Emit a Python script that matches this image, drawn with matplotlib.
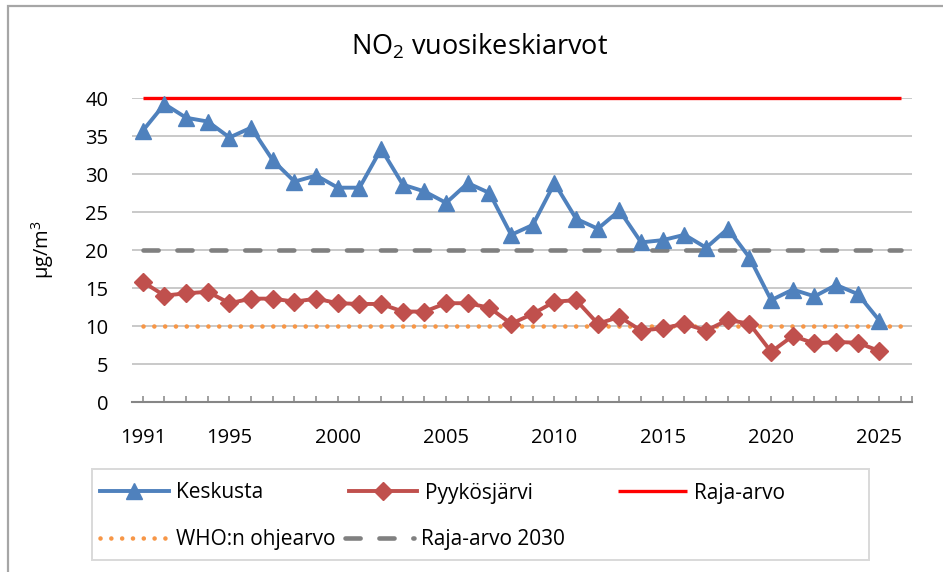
import matplotlib
matplotlib.use('Agg')
import matplotlib.pyplot as plt
import numpy as np
from matplotlib.patches import Rectangle

plt.rcParams['font.family'] = ['Open Sans', 'DejaVu Sans']
plt.rcParams['mathtext.fontset'] = 'custom'
plt.rcParams['mathtext.rm'] = 'Open Sans'

# data
years = list(range(1991, 2026))
keskusta = [35.7, 39.2, 37.4, 36.9, 34.8, 36.1, 31.8, 29.0, 29.8, 28.2,
            28.2, 33.3, 28.6, 27.7, 26.2, 28.8, 27.5, 22.0, 23.3, 28.8,
            24.1, 22.8, 25.2, 21.0, 21.3, 22.0, 20.3, 22.8, 19.0, 13.4,
            14.8, 13.9, 15.4, 14.2, 10.7]
pyykosjarvi = [15.8, 14.0, 14.3, 14.5, 13.0, 13.6, 13.6, 13.2, 13.6, 13.0,
               12.9, 12.9, 11.9, 11.9, 13.0, 13.0, 12.4, 10.3, 11.6, 13.2,
               13.4, 10.3, 11.2, 9.4, 9.7, 10.3, 9.4, 10.8, 10.3, 6.6,
               8.7, 7.7, 7.9, 7.8, 6.7]
ref_years = list(range(1991, 2027))
raja_arvo = [40] * len(ref_years)
who_ohje = [10] * len(ref_years)
raja_2030 = [20] * len(ref_years)
label_years = [1991, 1995, 2000, 2005, 2010, 2015, 2020, 2025]

fig = plt.figure(figsize=(9.43, 5.72), dpi=100)
ax = fig.add_axes([132/943, 1 - 402/572, 780/943, 304/572])

ax.set_xlim(1990.5, 2026.5)
ax.set_ylim(0, 40)
ax.set_yticks(range(0, 45, 5))
ax.grid(axis='y', color='#C0C0C0', lw=1.2, zorder=0)
ax.set_axisbelow(True)

ln_who, = ax.plot(ref_years, who_ohje, color='#F79646', lw=3.3,
                  dashes=(0.01, 2.35), dash_capstyle='round', zorder=2)
ln_2030, = ax.plot(ref_years, raja_2030, color='#808080', lw=3.3,
                   dashes=(3.3, 4.1), dash_capstyle='round', zorder=2)
ln_raja, = ax.plot(ref_years, raja_arvo, color='#FF0000', lw=2.4, zorder=3,
                   clip_on=False, solid_capstyle='butt')
ln_pyy, = ax.plot(years, pyykosjarvi, color='#C0504D', lw=2.8, marker='D',
                  ms=9, zorder=4, clip_on=False)
ln_kes, = ax.plot(years, keskusta, color='#4F81BD', lw=2.8, marker='^',
                  ms=11, zorder=5, clip_on=False)

for s in ['left', 'right', 'top']:
    ax.spines[s].set_visible(False)
ax.spines['bottom'].set_color('#868686')
ax.spines['bottom'].set_linewidth(1.5)

ax.set_xticks(label_years)
ax.set_xticks(list(range(1991, 2027)) + [2026.5], minor=True)
ax.tick_params(axis='x', which='both', direction='in', length=4.5,
               color='#868686', width=1.1, labelsize=14.5, pad=19)
ax.tick_params(axis='y', length=0, labelsize=14.5, pad=17)
ax.set_ylabel('µg/m$^\\mathregular{3}$', fontsize=14.5)
ax.yaxis.set_label_coords(-0.098, 0.5)

fig.text(480/943, 1 - 47/572, 'NO$_\\mathregular{2}$ vuosikeskiarvot',
         fontsize=19.5, ha='center', va='center')

# chart border
fig.patches.append(Rectangle((8/943, -0.1), 1.2, (572 - 6)/572 + 0.1,
                             transform=fig.transFigure, fill=False,
                             edgecolor='#A6A6A6', lw=1.6))
# legend box
fig.patches.append(Rectangle((92/943, 1 - 560/572), 777/943, 91/572,
                             transform=fig.transFigure, fill=False,
                             edgecolor='#D9D9D9', lw=1.4))

common = dict(loc='center left', borderaxespad=0, borderpad=0,
              fontsize=15, handlelength=3.3, handletextpad=0.35,
              numpoints=1, frameon=False)
leg1 = fig.legend([ln_kes, ln_pyy, ln_raja],
                  ['Keskusta', 'Pyykösjärvi', 'Raja-arvo'], ncol=3,
                  bbox_to_anchor=(100/943, 1 - 493/572),
                  columnspacing=4.1, **common)
leg2 = fig.legend([ln_who, ln_2030],
                  ['WHO:n ohjearvo', 'Raja-arvo 2030'], ncol=2,
                  bbox_to_anchor=(100/943, 1 - 540/572),
                  columnspacing=0.45, **common)

fig.savefig('out.png', dpi=100)
